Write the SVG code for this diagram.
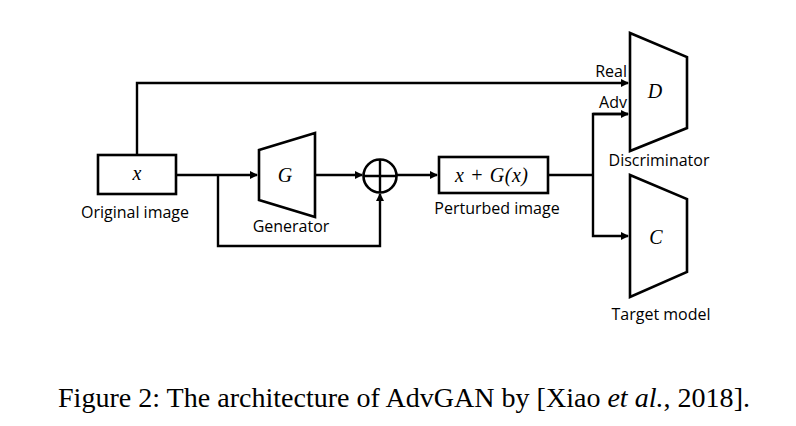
<svg xmlns="http://www.w3.org/2000/svg" width="796" height="426" viewBox="0 0 796 426">
<defs>
<marker id="ah" markerWidth="8" markerHeight="8" refX="7" refY="4" orient="auto" markerUnits="userSpaceOnUse">
<path d="M0,0 L8,4 L0,8 Z" fill="#000"/>
</marker>
<style>
.s{fill:#fff;stroke:#000;stroke-width:2.6}
.c{fill:none;stroke:#000;stroke-width:2.4}
.l{font-family:"Open Sans","Liberation Sans",sans-serif;font-size:16px;fill:#000}
.m{font-family:"Liberation Serif",serif;font-style:italic;font-size:20px;fill:#000}
.cap{font-family:"Liberation Serif","Times New Roman",serif;font-size:28px;fill:#000}
</style>
</defs>
<rect width="796" height="426" fill="#fff"/>
<g id="connectors">
<polyline class="c" points="137,155 137,83 628,83" marker-end="url(#ah)"/>
<polyline class="c" points="176,175 257,175" marker-end="url(#ah)"/>
<polyline class="c" points="218,175 218,246 380,246 380,194" marker-end="url(#ah)"/>
<polyline class="c" points="315,175 362,175" marker-end="url(#ah)"/>
<polyline class="c" points="397,175 437,175" marker-end="url(#ah)"/>
<polyline class="c" points="548,175 593,175"/>
<polyline class="c" points="628,114 593,114 593,236 628,236" marker-end="url(#ah)"/>
<polyline class="c" points="593,114 628,114" marker-end="url(#ah)"/>
</g>
<g id="x">
<rect class="s" x="98" y="155" width="78" height="39"/>
<text class="m" x="137" y="180" text-anchor="middle">x</text>
<text class="l" x="135" y="218" text-anchor="middle">Original image</text>
</g>
<g id="G">
<polygon class="s" points="259,150 315,133 315,217 259,200"/>
<text class="m" x="285" y="182" text-anchor="middle">G</text>
<text class="l" x="291" y="232" text-anchor="middle">Generator</text>
</g>
<g id="plus">
<circle class="s" cx="380" cy="176" r="16.5"/>
<line class="c" x1="363.5" y1="176" x2="396.5" y2="176"/>
<line class="c" x1="380" y1="159.5" x2="380" y2="192.5"/>
</g>
<g id="perturbed">
<rect class="s" x="439" y="157" width="109" height="36"/>
<text class="m" x="455" y="182" textLength="73" lengthAdjust="spacing">x + G(x)</text>
<text class="l" x="497" y="214" text-anchor="middle">Perturbed image</text>
</g>
<g id="D">
<polygon class="s" points="630,33 687,57 687,128 630,151"/>
<text class="m" x="655" y="98" text-anchor="middle">D</text>
<text class="l" x="659" y="166" text-anchor="middle">Discriminator</text>
<text class="l" x="627" y="77" text-anchor="end">Real</text>
<text class="l" x="627" y="108" text-anchor="end">Adv</text>
</g>
<g id="C">
<polygon class="s" points="630,175 687,199 687,272 630,297"/>
<text class="m" x="656" y="244" text-anchor="middle">C</text>
<text class="l" x="661" y="320" text-anchor="middle">Target model</text>
</g>
<text class="cap" x="58" y="407" textLength="692" lengthAdjust="spacingAndGlyphs">Figure 2: The architecture of AdvGAN by [Xiao <tspan font-style="italic">et al.</tspan>, 2018].</text>
</svg>
